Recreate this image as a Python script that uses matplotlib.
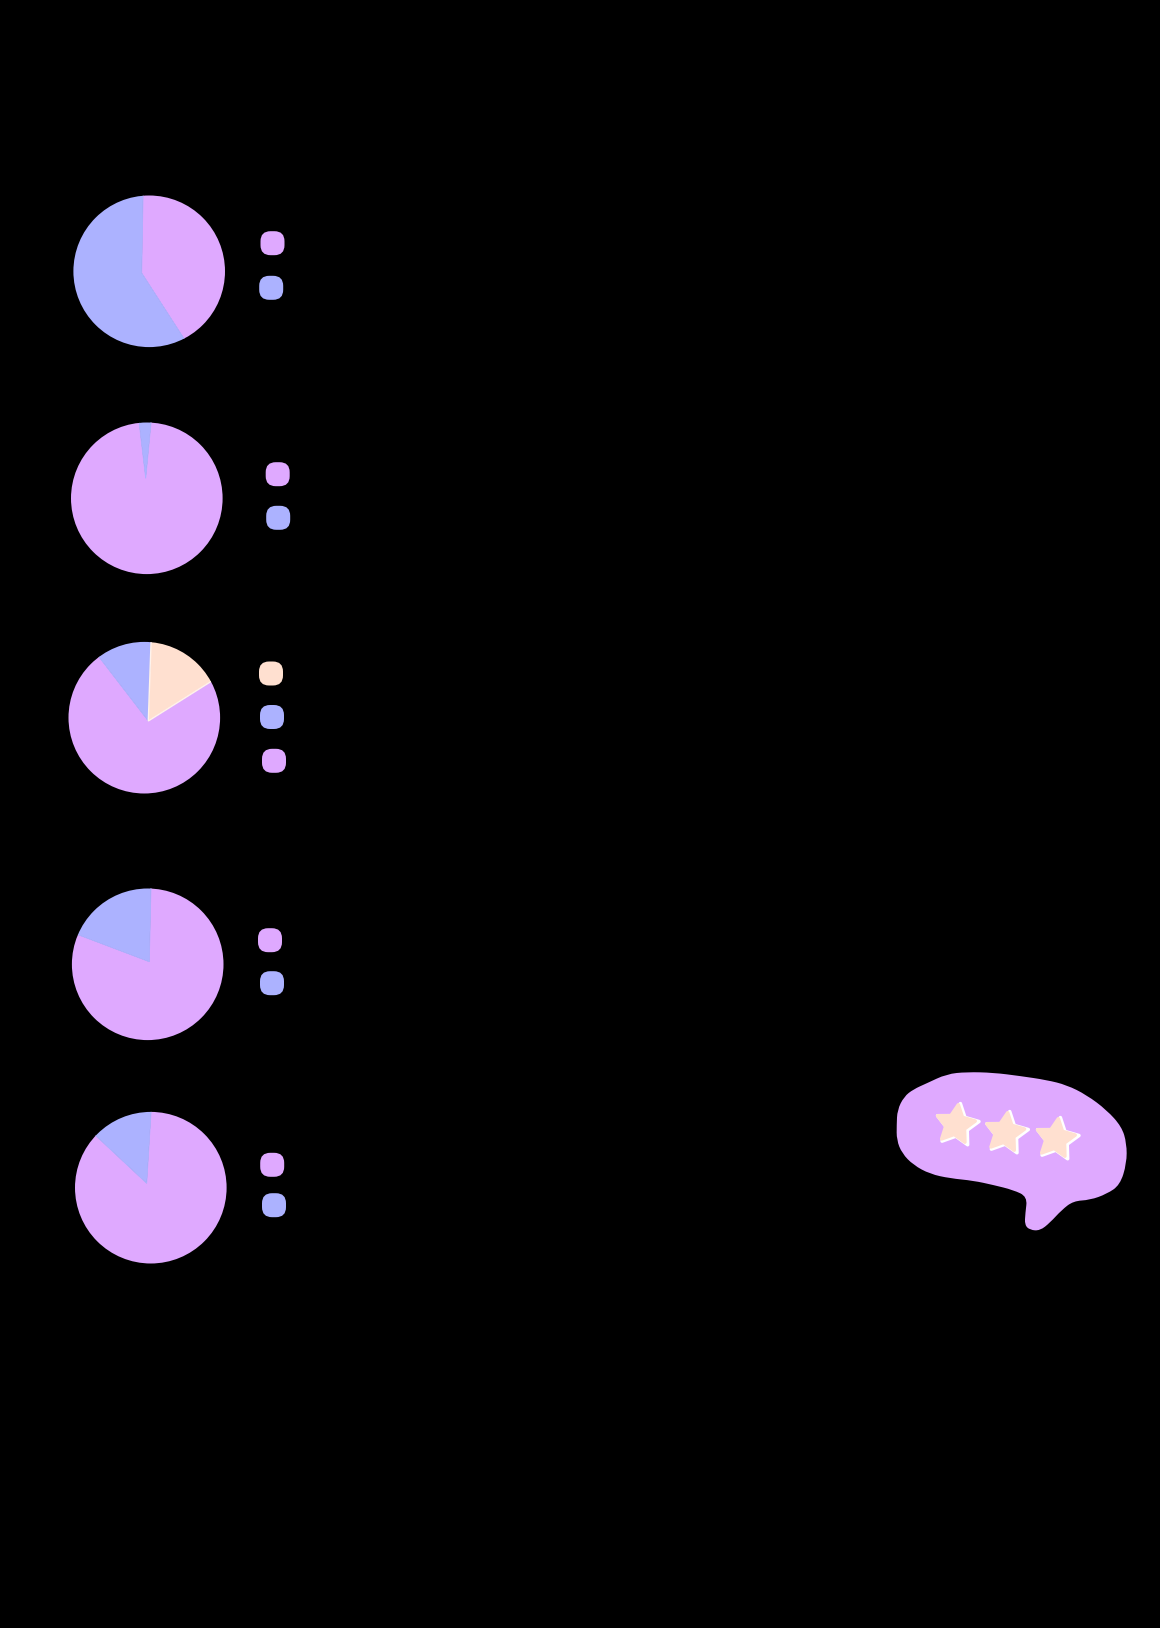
import matplotlib
matplotlib.use("Agg")
import matplotlib.pyplot as plt
import numpy as np
from matplotlib.patches import Circle, FancyBboxPatch, PathPatch, Polygon
from matplotlib.path import Path

W, H = 1160, 1628

PINK = "#DFA9FF"
BLUE = "#ACB2FF"
PEACH = "#FFE0D0"

# slice values per pie, percent
pie1_values = [40.6, 59.4]
pie2_values = [96.6, 3.4]
pie3_values = [15.5, 73.5, 11.0]
pie4_values = [80.4, 19.6]
pie5_values = [86.0, 14.0]

pie1_colors = [PINK, BLUE]
pie2_colors = [PINK, BLUE]
pie3_colors = [PEACH, PINK, BLUE]
pie4_colors = [PINK, BLUE]
pie5_colors = [PINK, BLUE]

# outline centre, apex of the slices (off centre in the original), start angle
layout = [
    (pie1_values, pie1_colors, (149.2, 271.3), (141.7, 273.0), 89.0),
    (pie2_values, pie2_colors, (146.8, 498.3), (145.7, 478.3), 84.5),
    (pie3_values, pie3_colors, (144.3, 717.7), (148.3, 721.0), 88.0),
    (pie4_values, pie4_colors, (147.7, 964.3), (149.3, 961.7), 88.7),
    (pie5_values, pie5_colors, (150.8, 1187.7), (146.7, 1183.3), 86.5),
]
RADIUS = 75.8

# legend swatches, the labels are not visible in the reference
swatches = [
    (272.5, 243.2, PINK), (271.2, 287.8, BLUE),
    (277.7, 474.2, PINK), (278.2, 517.8, BLUE),
    (271.0, 673.5, PEACH), (272.0, 717.0, BLUE), (274.0, 760.8, PINK),
    (270.0, 940.2, PINK), (272.0, 983.2, BLUE),
    (272.2, 1164.8, PINK), (274.0, 1205.2, BLUE),
]

# speech bubble outline, in 3x crop pixels from (880, 1050)
bubble = [(50, 225), (52, 180), (72, 140), (100, 118), (140, 100), (200, 72), (260, 66),
          (340, 68), (420, 78), (500, 90), (560, 105), (620, 135), (680, 180), (725, 230),
          (740, 280), (740, 340), (720, 405), (680, 432), (630, 450), (580, 453), (545, 480),
          (510, 518), (480, 542), (450, 540), (434, 525), (436, 490), (442, 440), (400, 420),
          (340, 405), (280, 392), (210, 385), (150, 372), (100, 345), (66, 310), (50, 270)]
star_centres = [(232, 226), (380, 250), (532, 268)]


def flip(x, y):
    return x, H - y


def star_points(cx, cy, r, rot):
    ang = np.radians(90 - rot - np.arange(10) * 36)
    rad = np.where(np.arange(10) % 2 == 0, r, r * 0.5)
    return np.column_stack([cx + rad * np.cos(ang), cy + rad * np.sin(ang)])


fig = plt.figure(figsize=(W / 100, H / 100), dpi=100, facecolor="black")
ax = fig.add_axes([0, 0, 1, 1], facecolor="black")

for values, colors, centre, apex, start in layout:
    wedges, _ = ax.pie(values, colors=colors, startangle=start, counterclock=False,
                       center=flip(*apex), radius=300, frame=True)
    clip = Circle(flip(*centre), RADIUS, transform=ax.transData)
    for w, c in zip(wedges, colors):
        # pie() turns clipping off, the big wedges are cut back to the outline here
        w.set_clip_on(True)
        w.set_clip_path(clip)
        w.set(edgecolor=c, linewidth=0.6)  # hides the dark seam between slices
        if c == PEACH:
            w.set(edgecolor="#FFF3EC", linewidth=1, zorder=2)

for x, y, c in swatches:
    px, py = flip(x, y)
    ax.add_patch(FancyBboxPatch((px - 2, py - 2), 4, 4, boxstyle="round,pad=10,rounding_size=10",
                                fc=c, ec="none"))

# bubble, smoothed through the midpoints of the outline
pts = np.array([flip(880 + x / 3, 1050 + y / 3) for x, y in bubble])
mids = (pts + np.roll(pts, -1, axis=0)) / 2
verts = [mids[-1]]
codes = [Path.MOVETO]
for p, m in zip(pts, mids):
    verts += [p, m]
    codes += [Path.CURVE3, Path.CURVE3]
ax.add_patch(PathPatch(Path(verts, codes), fc=PINK, ec="none"))

for x, y in star_centres:
    cx, cy = flip(880 + x / 3, 1050 + y / 3)
    ax.add_patch(Polygon(star_points(cx, cy, 22, 8), fc="white", ec="white", lw=2.5, joinstyle="round", zorder=3))
    ax.add_patch(Polygon(star_points(cx - 1.8, cy + 0.8, 20, 8), fc=PEACH, ec=PEACH, lw=2.5, joinstyle="round", zorder=3))

ax.set_xlim(0, W)
ax.set_ylim(0, H)
ax.set_aspect("auto")
ax.axis("off")

fig.savefig("out.png", dpi=100, facecolor="black")
